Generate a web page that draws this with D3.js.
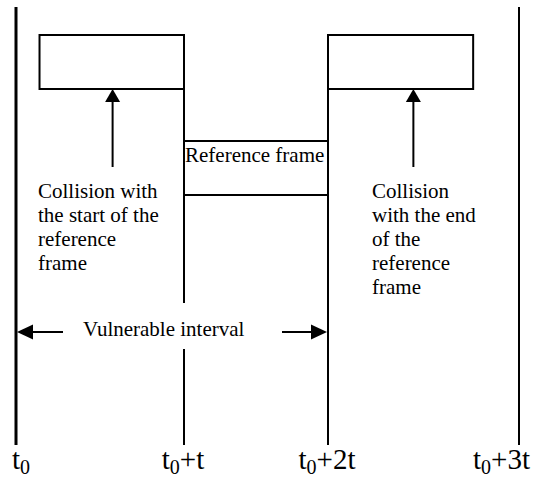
<!DOCTYPE html>
<html><head><meta charset="utf-8"><script src="https://cdn.jsdelivr.net/npm/d3@7"></script></head>
<body style="margin:0">
<svg id="chart" width="533" height="477"></svg>
<script>
// ---- data ----
const timeSteps = [0, 1, 2, 3];                       // multiples of t
const tickMain = ["t", "t", "t", "t"];
const tickSub = ["0", "0", "0", "0"];
const tickSuffix = ["", "+t", "+2t", "+3t"];
const collidingFrames = [{ start: 0.14, end: 1 }, { start: 2, end: 2.76 }];
const referenceFrame = { start: 1, end: 2, label: "Reference frame" };
const collisionPoints = [0.575, 2.447];
const collisionLabels = [
  ["Collision with", "the start of the", "reference", "frame"],
  ["Collision", "with the end", "of the", "reference", "frame"]
];
const intervalLabel = "Vulnerable interval";
const vulnerable = { start: 0, end: 2 };

// ---- layout ----
const svg = d3.select("#chart");
function serif(sel, size) {
  return sel.style("font-family", '"Liberation Serif"').attr("font-size", size);
}
const x = d3.scaleLinear().domain(timeSteps).range([16, 184, 328, 519]);
const yTop = 7, yBottom = 445;
const frameTop = 35, frameBottom = 89;
const refTop = 141, refBottom = 195;
const arrowY = 332;
const gapTop = 303, gapBottom = 349;

// vertical time lines
const lineG = svg.append("g").attr("stroke", "#000");
timeSteps.forEach((d, i) => {
  const top = (i === 0 || i === 3) ? yTop : frameTop;
  const w = i === 0 ? 3 : 2;
  if (i === 1) {
    lineG.append("line").attr("x1", x(d)).attr("x2", x(d)).attr("y1", top).attr("y2", gapTop).attr("stroke-width", w);
    lineG.append("line").attr("x1", x(d)).attr("x2", x(d)).attr("y1", gapBottom).attr("y2", yBottom).attr("stroke-width", w);
  } else {
    lineG.append("line").attr("x1", x(d)).attr("x2", x(d)).attr("y1", top).attr("y2", yBottom).attr("stroke-width", w);
  }
});

// colliding frames
svg.append("g").selectAll("rect").data(collidingFrames).join("rect")
  .attr("x", d => x(d.start)).attr("width", d => x(d.end) - x(d.start))
  .attr("y", frameTop).attr("height", frameBottom - frameTop)
  .attr("fill", "none").attr("stroke", "#000").attr("stroke-width", 2);

// reference frame
svg.append("rect")
  .attr("x", x(referenceFrame.start)).attr("width", x(referenceFrame.end) - x(referenceFrame.start))
  .attr("y", refTop).attr("height", refBottom - refTop)
  .attr("fill", "none").attr("stroke", "#000").attr("stroke-width", 2);
serif(svg.append("text"), 21)
  .attr("x", x(referenceFrame.start) + 1).attr("y", 162)
  .text(referenceFrame.label);

// up arrows
const headLen = 13, headHalf = 7.5;
collisionPoints.forEach(p => {
  const cx = x(p);
  svg.append("line").attr("x1", cx).attr("x2", cx).attr("y1", 167).attr("y2", frameBottom + headLen - 1)
    .attr("stroke", "#000").attr("stroke-width", 2);
  svg.append("path")
    .attr("d", `M${cx},${frameBottom} L${cx - headHalf},${frameBottom + headLen} L${cx + headHalf},${frameBottom + headLen} Z`)
    .attr("fill", "#000");
});

// collision labels
const labelX = [38, 372];
collisionLabels.forEach((lines, i) => {
  lines.forEach((l, j) => {
    serif(svg.append("text"), 21).attr("x", labelX[i]).attr("y", 198 + j * 24).text(l);
  });
});

// vulnerable interval
const hx0 = x(vulnerable.start), hx1 = x(vulnerable.end);
svg.append("line").attr("x1", hx0 + 16).attr("x2", 63).attr("y1", arrowY).attr("y2", arrowY).attr("stroke", "#000").attr("stroke-width", 2);
svg.append("path").attr("d", `M${hx0 + 1},${arrowY} L${hx0 + 17},${arrowY - headHalf} L${hx0 + 17},${arrowY + headHalf} Z`).attr("fill", "#000");
svg.append("line").attr("x1", 282).attr("x2", hx1 - 16).attr("y1", arrowY).attr("y2", arrowY).attr("stroke", "#000").attr("stroke-width", 2);
svg.append("path").attr("d", `M${hx1 - 1},${arrowY} L${hx1 - 17},${arrowY - headHalf} L${hx1 - 17},${arrowY + headHalf} Z`).attr("fill", "#000");
serif(svg.append("text"), 21).attr("x", 83).attr("y", 336).text(intervalLabel);

// time tick labels
const anchors = ["start", "middle", "middle", "end"];
const offsets = [-4, -1, -1, 11];
timeSteps.forEach((d, i) => {
  const t = serif(svg.append("text"), 29)
    .attr("x", x(d) + offsets[i]).attr("y", 469)
    .attr("text-anchor", anchors[i]);
  t.append("tspan").text(tickMain[i]);
  t.append("tspan").attr("font-size", 20).attr("dy", 5).text(tickSub[i]);
  t.append("tspan").attr("dy", -5).text(tickSuffix[i]);
});
</script>
</body>
</html>
